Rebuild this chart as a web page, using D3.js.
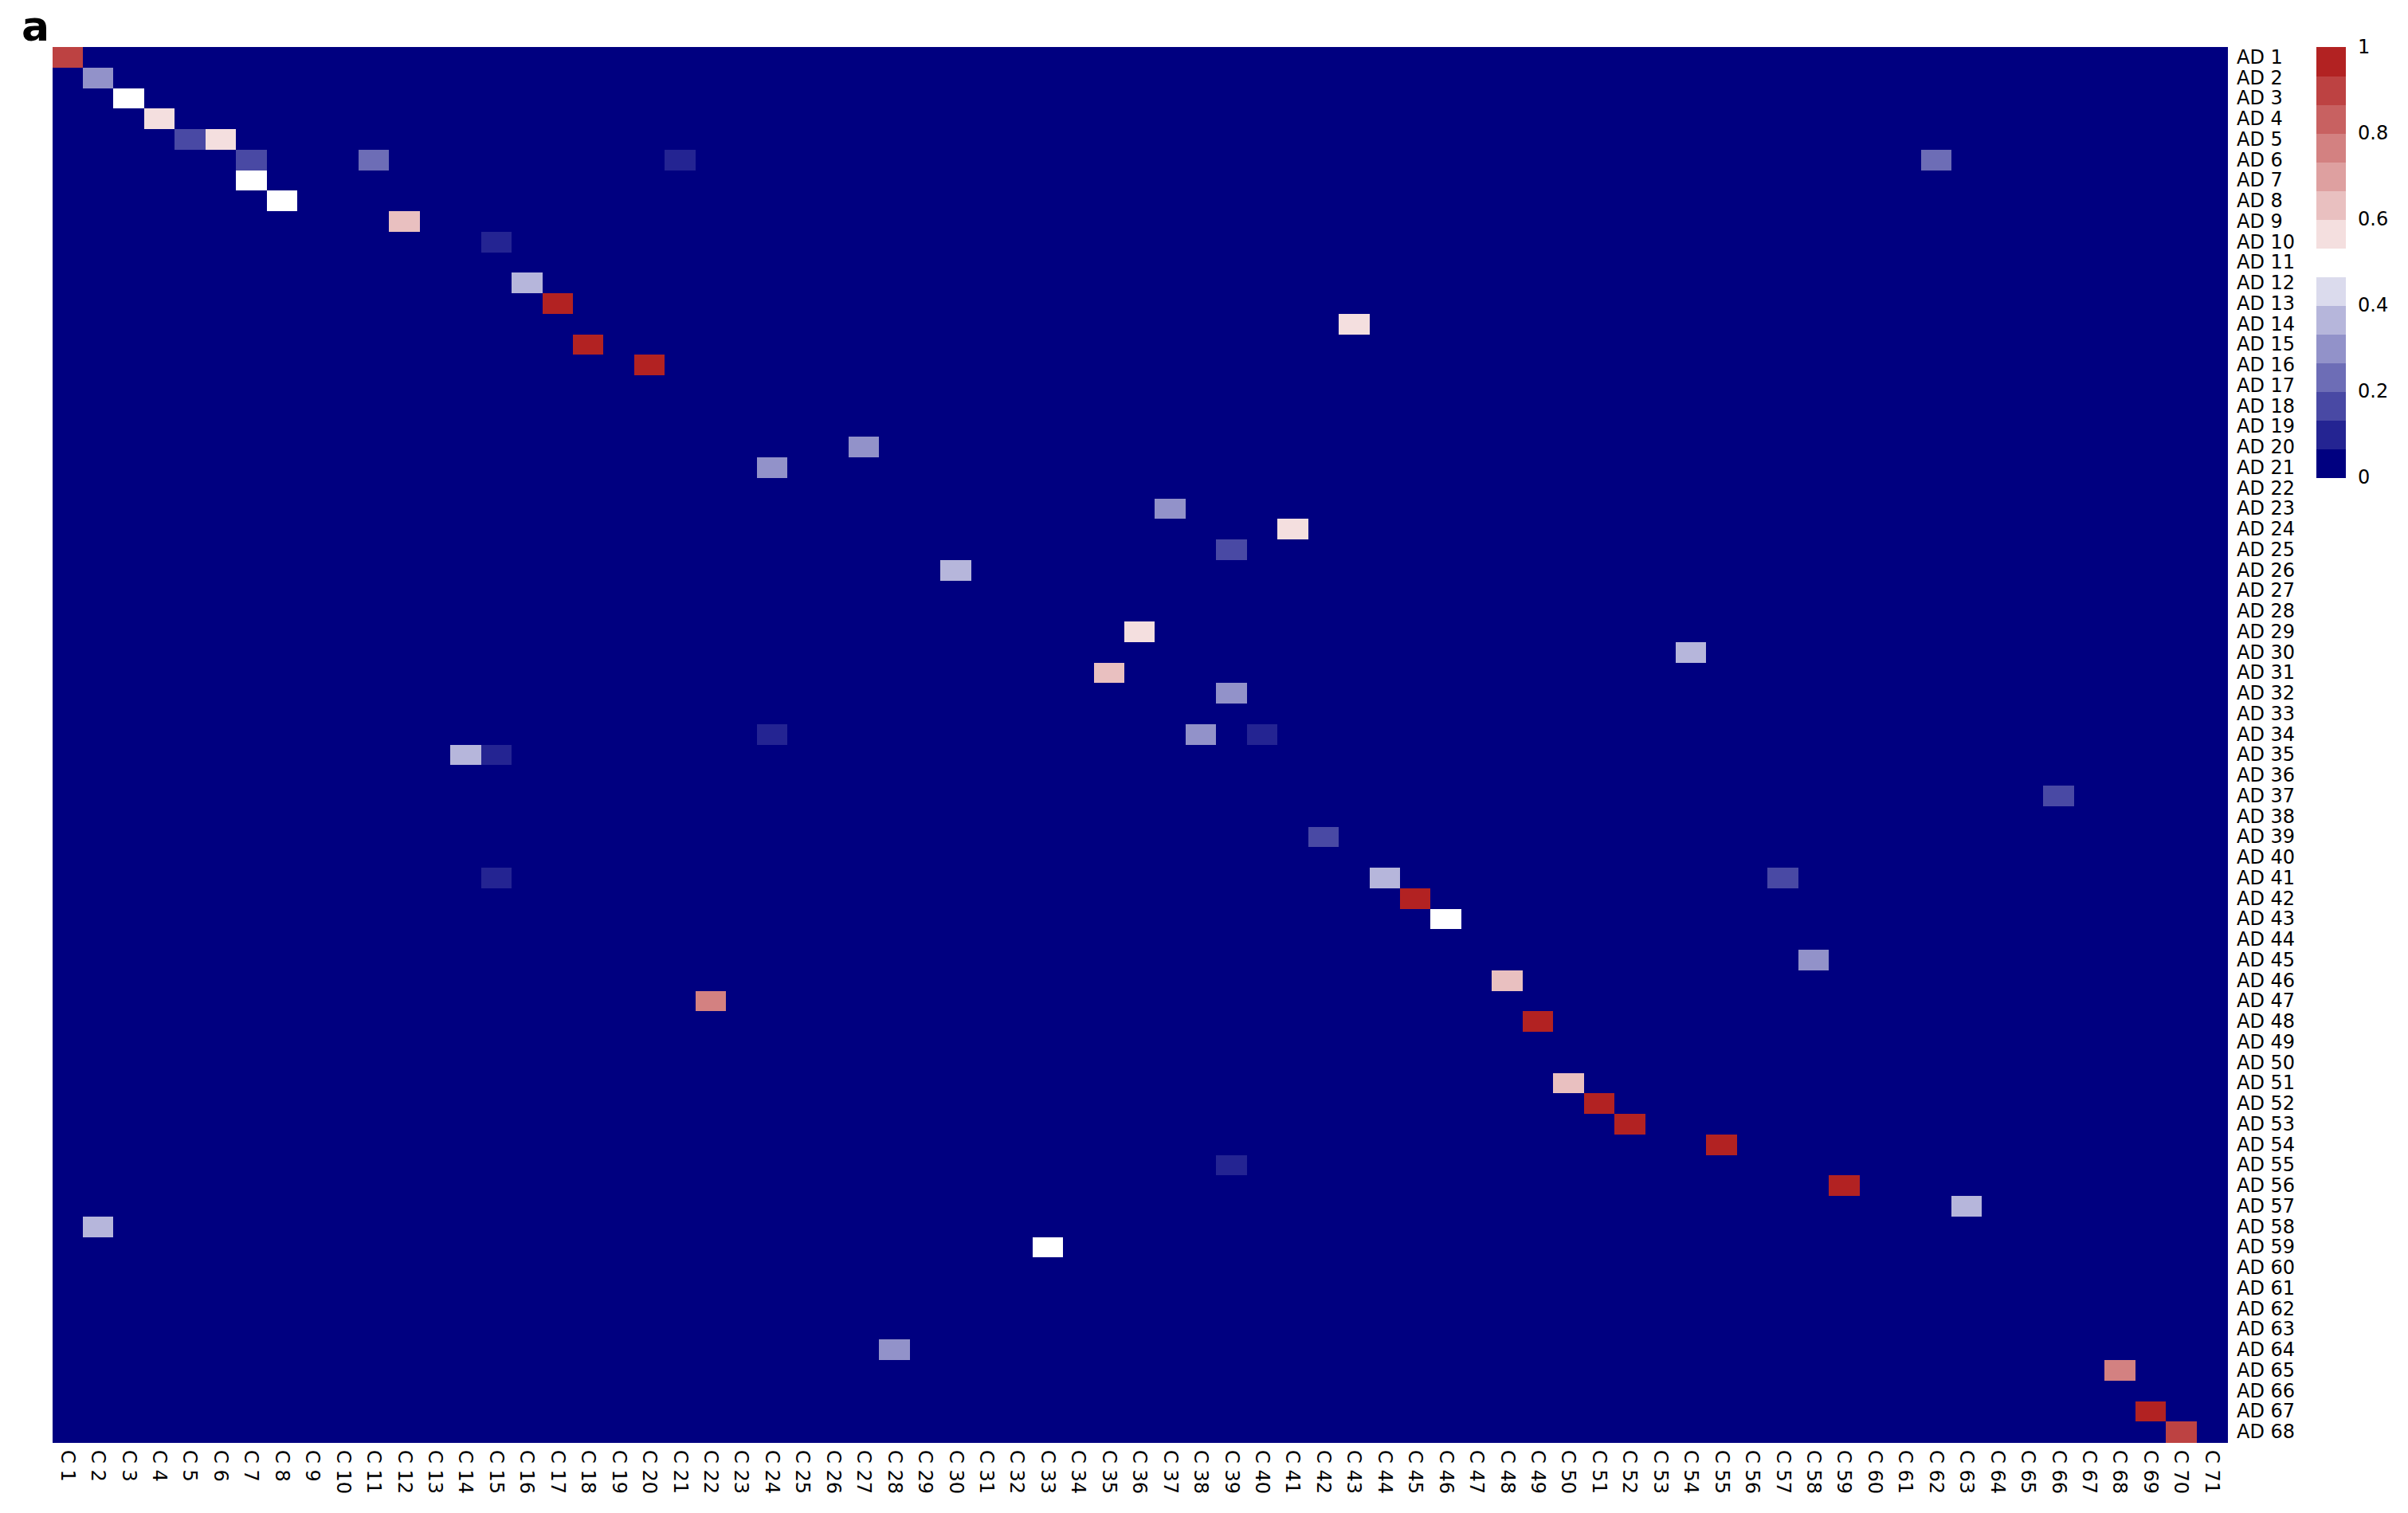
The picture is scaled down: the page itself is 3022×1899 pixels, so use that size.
<!DOCTYPE html>
<html>
<head>
<meta charset="utf-8">
<script src="https://cdn.jsdelivr.net/npm/d3@7"></script>
<style>
  html, body { margin: 0; padding: 0; background: #ffffff; }
  svg { display: block; }
  text { font-family: "DejaVu Sans", sans-serif; fill: #000; }
</style>
</head>
<body>
<svg id="chart" width="3022" height="1899"></svg>
<script>
// ---- data ----
const rowLabels = d3.range(1, 69).map(i => "AD " + i);
const colLabels = d3.range(1, 72).map(i => "C " + i);
// non-zero cells (row index, column index, value); all other cells are 0
const hitRow   = [1, 2, 3, 4, 5, 5, 6, 6, 6, 6, 7, 8, 9, 10, 12, 13, 14, 15, 16, 20, 21, 23, 24, 25, 26, 29, 30, 31, 32, 34, 34, 34, 35, 35, 37, 39, 41, 41, 41, 42, 43, 45, 46, 47, 48, 51, 52, 53, 54, 55, 56, 57, 58, 59, 64, 65, 67, 68];
const hitCol   = [1, 2, 3, 4, 5, 6, 7, 11, 21, 62, 7, 8, 12, 15, 16, 17, 43, 18, 20, 27, 24, 37, 41, 39, 30, 36, 54, 35, 39, 24, 38, 40, 14, 15, 66, 42, 15, 44, 57, 45, 46, 58, 48, 22, 49, 50, 51, 52, 55, 39, 59, 63, 2, 33, 28, 68, 69, 70];
const hitValue = [0.9, 0.3, 0.5, 0.57, 0.17, 0.57, 0.17, 0.23, 0.1, 0.23, 0.5, 0.5, 0.63, 0.1, 0.37, 1, 0.57, 1, 1, 0.3, 0.3, 0.3, 0.57, 0.17, 0.37, 0.57, 0.37, 0.63, 0.3, 0.1, 0.3, 0.1, 0.37, 0.1, 0.17, 0.17, 0.1, 0.37, 0.17, 1, 0.5, 0.3, 0.63, 0.77, 1, 0.63, 1, 1, 1, 0.1, 1, 0.37, 0.37, 0.5, 0.3, 0.77, 1, 0.9];
const legendTicks = [0, 0.2, 0.4, 0.6, 0.8, 1];
const paletteAnchors = ["#000080", "#ffffff", "#B22222"];
const nColors = 15;

// ---- build matrix ----
const matrix = [];
rowLabels.forEach((r, ri) => colLabels.forEach((c, ci) => matrix.push({row: r, col: c, value: 0})));
hitRow.forEach((r, i) => {
  matrix[(r - 1) * colLabels.length + (hitCol[i] - 1)].value = hitValue[i];
});

// ---- layout ----
const hm = {left: 65.5, right: 2795, top: 59, bottom: 1810};
const svg = d3.select("#chart");

const x = d3.scaleBand().domain(colLabels).range([hm.left, hm.right]).paddingInner(0).paddingOuter(0);
const y = d3.scaleBand().domain(rowLabels).range([hm.top, hm.bottom]).paddingInner(0).paddingOuter(0);

const interp = d3.piecewise(d3.interpolateRgb, paletteAnchors);
const palette = d3.range(nColors).map(i => interp(i / (nColors - 1)));
const color = d3.scaleQuantize().domain([0, 1]).range(palette);

// cells
svg.append("g")
  .attr("shape-rendering", "crispEdges")
  .selectAll("rect")
  .data(matrix)
  .join("rect")
  .attr("x", d => x(d.col))
  .attr("y", d => y(d.row))
  .attr("width", x.bandwidth() + 0.6)
  .attr("height", y.bandwidth() + 0.6)
  .attr("fill", d => color(Math.min(d.value, 0.9999)));

// row labels
svg.append("g")
  .selectAll("text")
  .data(rowLabels)
  .join("text")
  .attr("x", hm.right + 12)
  .attr("y", d => y(d) + y.bandwidth() / 2)
  .attr("dominant-baseline", "central")
  .style("font-size", "24px")
  .text(d => d);

// column labels (rotated, reading downwards)
svg.append("g")
  .selectAll("text")
  .data(colLabels)
  .join("text")
  .attr("transform", d => `translate(${x(d) + x.bandwidth() / 2},${hm.bottom + 10}) rotate(90)`)
  .attr("text-anchor", "start")
  .attr("dominant-baseline", "central")
  .style("font-size", "24px")
  .text(d => d);

// legend
const lg = {left: 2907, width: 37, top: 59, bottom: 599};
const ly = d3.scaleLinear().domain([0, 1]).range([lg.bottom, lg.top]);
svg.append("g")
  .attr("shape-rendering", "crispEdges")
  .selectAll("rect")
  .data(palette)
  .join("rect")
  .attr("x", lg.left)
  .attr("width", lg.width)
  .attr("y", (d, i) => ly((i + 1) / nColors))
  .attr("height", (d, i) => ly(i / nColors) - ly((i + 1) / nColors) + 0.5)
  .attr("fill", d => d);

svg.append("g")
  .selectAll("text")
  .data(legendTicks)
  .join("text")
  .attr("x", lg.left + lg.width + 15)
  .attr("y", d => ly(d))
  .attr("dominant-baseline", "central")
  .style("font-size", "24px")
  .text(d => d3.format("~g")(d));

// panel tag
svg.append("text")
  .attr("x", 27)
  .attr("y", 51)
  .style("font-size", "52px")
  .style("font-weight", "bold")
  .text("a");
</script>
</body>
</html>
